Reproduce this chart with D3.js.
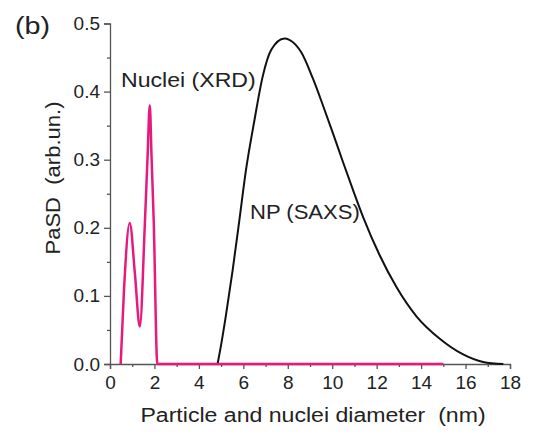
<!DOCTYPE html>
<html><head><meta charset="utf-8">
<script src="https://cdn.jsdelivr.net/npm/d3@7"></script>
<style>body{margin:0;background:#fff}svg{display:block}text{font-family:"Liberation Sans",Arial,sans-serif}</style>
</head><body><svg id="c" width="534" height="438"></svg>
<script>
const nucleiX = [0.48, 0.63, 0.89, 1.12, 1.34, 1.57, 1.69, 1.79, 1.87, 1.97, 2.13, 15];
const nucleiY = [0, 0.109, 0.207, 0.133, 0.055, 0.207, 0.304, 0.38, 0.304, 0.207, 0, 0];
const npX = [4.84, 5.0, 5.22, 5.52, 5.82, 6.12, 6.5, 6.87, 7.25, 7.85, 8.07, 8.6, 9.12, 9.58, 10.03, 10.48, 10.93, 11.4, 12.13, 12.89, 13.79, 14.84, 15.89, 16.79, 17.7];
const npY = [0, 0.028, 0.072, 0.138, 0.211, 0.285, 0.358, 0.422, 0.461, 0.478, 0.476, 0.458, 0.42, 0.38, 0.339, 0.297, 0.256, 0.215, 0.160, 0.113, 0.070, 0.037, 0.014, 0.003, 0];
const xTicks = [0, 2, 4, 6, 8, 10, 12, 14, 16, 18];
const xMinor = [1, 3, 5, 7, 9, 11, 13, 15, 17];
const yTicks = [0, 0.1, 0.2, 0.3, 0.4, 0.5];
const yMinor = [0.05, 0.15, 0.25, 0.35, 0.45];

const svg = d3.select("#c");
const x = d3.scaleLinear().domain([0, 18]).range([110, 510]);
const y = d3.scaleLinear().domain([0, 0.5]).range([364, 23.5]);
const axisCol = "#555";

svg.append("g").attr("transform", `translate(0,${y(0)})`)
  .call(d3.axisBottom(x).tickValues(xTicks).tickFormat(d3.format("d")).tickSizeOuter(0).tickSize(5).tickPadding(7));
svg.append("g").attr("transform", `translate(0,${y(0)})`)
  .call(d3.axisBottom(x).tickValues(xMinor).tickFormat("").tickSizeOuter(0).tickSize(3))
  .select(".domain").remove();
svg.append("g").attr("transform", `translate(${x(0)},0)`)
  .call(d3.axisLeft(y).tickValues(yTicks).tickFormat(d3.format(".1f")).tickSizeOuter(0).tickSize(6).tickPadding(4));
svg.append("g").attr("transform", `translate(${x(0)},0)`)
  .call(d3.axisLeft(y).tickValues(yMinor).tickFormat("").tickSizeOuter(0).tickSize(3))
  .select(".domain").remove();
svg.selectAll(".domain, .tick line").attr("stroke", axisCol).attr("stroke-width", 1.3);
svg.selectAll(".tick text").attr("fill", "#222").style("font-size", "19px");

const line = d3.line().x(d => x(d[0])).y(d => y(d[1])).curve(d3.curveMonotoneX);
svg.append("path").datum(npX.map((v, i) => [v, npY[i]]))
  .attr("d", line).attr("fill", "none").attr("stroke", "#111").attr("stroke-width", 2);
svg.append("path").datum(nucleiX.map((v, i) => [v, nucleiY[i]]))
  .attr("d", line).attr("fill", "none").attr("stroke", "#e8197d").attr("stroke-width", 2.5);

function label(tx, ty, rot, sx, size, txt, anchor) {
  svg.append("text")
    .attr("transform", `translate(${tx},${ty}) rotate(${rot}) scale(${sx},1)`)
    .attr("text-anchor", anchor || "start").style("font-size", size + "px")
    .attr("fill", "#222").attr("xml:space", "preserve").text(txt);
}
label(15, 34, 0, 1.25, 23, "(b)");
label(121, 87, 0, 1.1, 21, "Nuclei (XRD)");
label(250, 219, 0, 1.05, 21, "NP (SAXS)");
label(313, 422, 0, 1.1, 21, "Particle and nuclei diameter  (nm)", "middle");
label(60, 178, -90, 1.05, 21, "PaSD  (arb.un.)", "middle");
</script></body></html>
